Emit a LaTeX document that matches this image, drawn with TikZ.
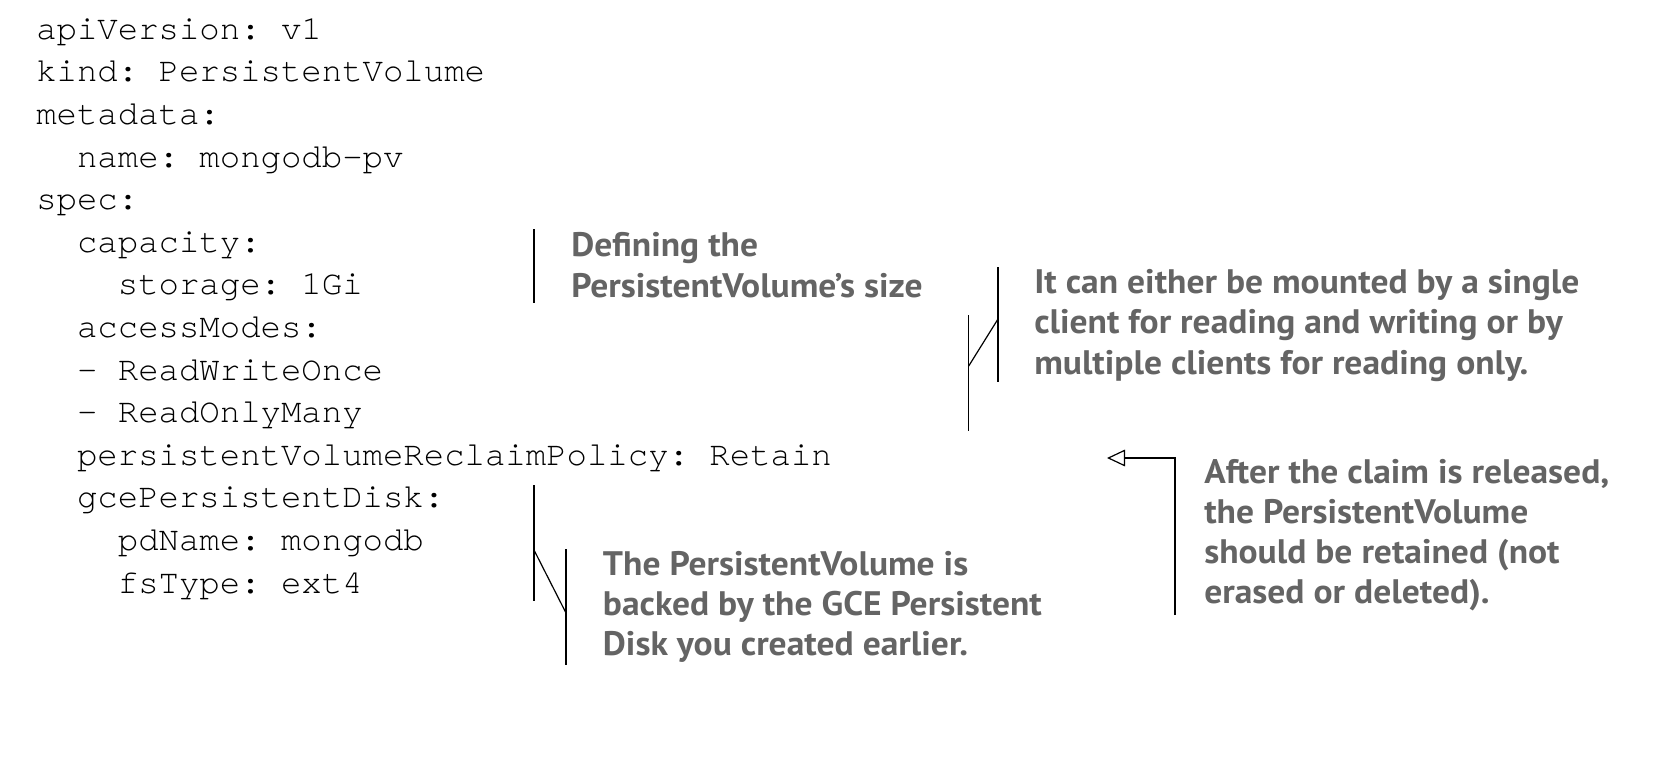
\documentclass[tikz,border=0pt]{standalone}
\usepackage{fontspec}
\setmonofont{TeX Gyre Cursor}
\newfontfamily\notefont[FakeStretch=1.045]{PT Sans}
\usetikzlibrary{arrows.meta}
\definecolor{notegray}{RGB}{100,100,100}
\tikzset{
  codeline/.style={anchor=base west, inner sep=0pt, font=\fontsize{25.5pt}{30pt}\ttfamily},
  noteline/.style={anchor=base west, inner sep=0pt, text=notegray, font=\fontsize{25.5pt}{30pt}\notefont\bfseries},
  bracketline/.style={draw=black, line width=0.9pt},
}
\begin{document}
\begin{tikzpicture}[x=0.75pt, y=-0.75pt]
\useasboundingbox (0,0) rectangle (1658,756);
% code
\node[codeline] (c1) at (36, 39.3) {apiVersion: v1};
\node[codeline] (c2) at (36, 81.9) {kind: PersistentVolume};
\node[codeline] (c3) at (36, 124.5) {metadata:};
\node[codeline] (c4) at (76.8, 167.1) {name: mongodb-pv};
\node[codeline] (c5) at (36, 209.7) {spec:};
\node[codeline] (c6) at (76.8, 252.3) {capacity:};
\node[codeline] (c7) at (117.6, 294.9) {storage: 1Gi};
\node[codeline] (c8) at (76.8, 337.5) {accessModes:};
\node[codeline] (c9) at (76.8, 380.1) {- ReadWriteOnce};
\node[codeline] (c10) at (76.8, 422.7) {- ReadOnlyMany};
\node[codeline] (c11) at (76.8, 465.3) {persistentVolumeReclaimPolicy: Retain};
\node[codeline] (c12) at (76.8, 507.9) {gcePersistentDisk:};
\node[codeline] (c13) at (117.6, 550.5) {pdName: mongodb};
\node[codeline] (c14) at (117.6, 593.1) {fsType: ext4};
% notes
\node[noteline] (a1) at (571, 256) {Defining the};
\node[noteline] (a2) at (571, 297) {PersistentVolume’s size};
\node[noteline] (b1) at (1034, 293) {It can either be mounted by a single};
\node[noteline] (b2) at (1034, 333.5) {client for reading and writing or by};
\node[noteline] (b3) at (1034, 374) {multiple clients for reading only.};
\node[noteline] (r1) at (1204, 483) {After the claim is released,};
\node[noteline] (r2) at (1204, 523) {the PersistentVolume};
\node[noteline] (r3) at (1204, 563) {should be retained (not};
\node[noteline] (r4) at (1204, 603) {erased or deleted).};
\node[noteline] (g1) at (602.7, 575) {The PersistentVolume is};
\node[noteline] (g2) at (602.7, 615) {backed by the GCE Persistent};
\node[noteline] (g3) at (602.7, 655) {Disk you created earlier.};
% capacity bracket
\coordinate (capT) at (534, 229);
\coordinate (capB) at (534, 303);
\draw[bracketline] (capT) -- (capB);
% access modes bracket
\coordinate (amLT) at (968.7, 315);
\coordinate (amLM) at (968.7, 366);
\coordinate (amLB) at (968.7, 431);
\coordinate (amRT) at (998, 267);
\coordinate (amRM) at (998, 319);
\coordinate (amRB) at (998, 382);
\draw[bracketline] (amLT) -- (amLB);
\draw[bracketline] (amRT) -- (amRB);
\draw[bracketline] (amLM) -- (amRM);
% gce bracket
\coordinate (gLT) at (534, 485);
\coordinate (gLM) at (534, 550);
\coordinate (gLB) at (534, 601);
\coordinate (gRT) at (566, 549);
\coordinate (gRM) at (566, 613);
\coordinate (gRB) at (566, 665);
\draw[bracketline] (gLT) -- (gLB);
\draw[bracketline] (gRT) -- (gRB);
\draw[bracketline] (gLM) -- (gRM);
% retain arrow
\coordinate (retTip) at (1107, 458);
\coordinate (retCorner) at (1175, 458);
\coordinate (retEnd) at (1175, 615);
\draw[bracketline, -{Triangle[open, length=13.5pt, width=12.5pt]}] (retEnd) -- (retCorner) -- (retTip);
\end{tikzpicture}
\end{document}
